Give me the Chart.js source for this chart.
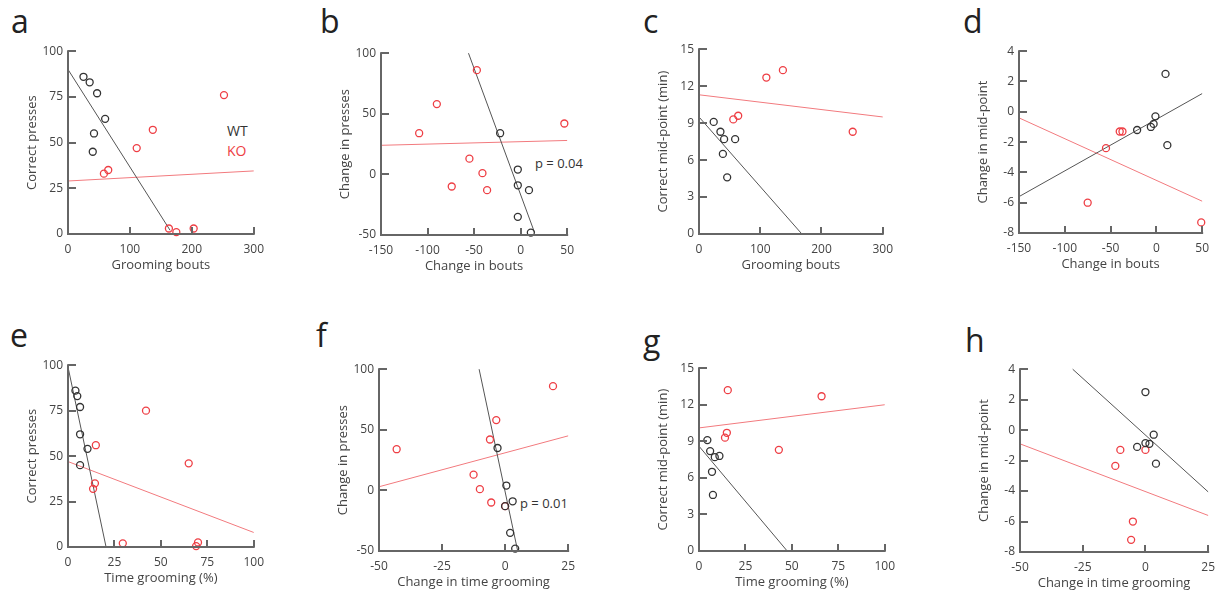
<!DOCTYPE html>
<html>
<head>
<meta charset="utf-8">
<script src="https://cdn.jsdelivr.net/npm/chart.js@4"></script>
<style>
  body { margin: 0; width: 1217px; height: 594px; background: #fff; position: relative; overflow: hidden; font-family: "Open Sans", sans-serif; }
  canvas { position: absolute; }
  .lbl { position: absolute; font-size: 32px; line-height: 1; color: #222; }
  .note { position: absolute; font-size: 13px; line-height: 1; color: #333; white-space: nowrap; }
</style>
</head>
<body>

<div class="lbl" style="left:11px;top:5px">a</div>
<div class="lbl" style="left:320px;top:5px">b</div>
<div class="lbl" style="left:643px;top:5px">c</div>
<div class="lbl" style="left:963px;top:5px">d</div>
<div class="lbl" style="left:10px;top:319px">e</div>
<div class="lbl" style="left:316px;top:319px">f</div>
<div class="lbl" style="left:643px;top:325px">g</div>
<div class="lbl" style="left:965px;top:324px">h</div>

<div class="note" style="left:227px;top:124px;font-size:14px">WT</div>
<div class="note" style="left:227px;top:144px;font-size:14px;color:#ee3e44">KO</div>
<div class="note" style="left:535px;top:157px">p = 0.04</div>
<div class="note" style="left:520px;top:497px">p = 0.01</div>

<canvas id="pa"></canvas>
<canvas id="pb"></canvas>
<canvas id="pc"></canvas>
<canvas id="pd"></canvas>
<canvas id="pe"></canvas>
<canvas id="pf"></canvas>
<canvas id="pg"></canvas>
<canvas id="ph"></canvas>

<script>
// ---- data ----
// a: grooming bouts vs correct presses
const aWtX = [25, 35, 47, 60, 42, 40];
const aWtY = [86, 83, 77, 63, 55, 45];
const aKoX = [252, 137, 111, 65, 58, 163, 175, 203];
const aKoY = [76, 57, 47, 35, 33, 3, 1, 3];
const aWtFitX = [0, 165], aWtFitY = [90, 2];
const aKoFitX = [0, 300], aKoFitY = [29, 34.5];

// b: change in bouts vs change in presses
const bWtX = [-22, -3, -3, 9, -3, 11];
const bWtY = [34, 4, -9, -13, -35, -48];
const bKoX = [-47, -90, -109, -55, -41, -74, -36, 47];
const bKoY = [86, 58, 34, 13, 1, -10, -13, 42];
const bWtFitX = [-56, 15], bWtFitY = [100, -48];
const bKoFitX = [-150, 50], bKoFitY = [24, 28];

// c: grooming bouts vs correct mid-point
const cWtX = [24, 35, 41, 59, 39, 46];
const cWtY = [9.1, 8.3, 7.7, 7.7, 6.5, 4.6];
const cKoX = [110, 137, 56, 64, 251];
const cKoY = [12.7, 13.3, 9.3, 9.6, 8.3];
const cWtFitX = [0, 168], cWtFitY = [9.5, 0];
const cKoFitX = [0, 300], cKoFitY = [11.3, 9.5];

// d: change in bouts vs change in mid-point
const dWtX = [10, -1, -3, -6, -21, 12];
const dWtY = [2.5, -0.3, -0.8, -1.0, -1.2, -2.2];
const dKoX = [-40, -37, -55, -75, 49];
const dKoY = [-1.3, -1.3, -2.4, -6.0, -7.3];
const dWtFitX = [-150, 50], dWtFitY = [-5.6, 1.2];
const dKoFitX = [-150, 50], dKoFitY = [-0.4, -5.9];

// e: time grooming vs correct presses
const eWtX = [4, 5, 6.5, 6.5, 10.5, 6.5];
const eWtY = [86, 83, 77, 62, 54, 45];
const eKoX = [42, 15, 65, 14.5, 13.5, 29.5, 70, 69];
const eKoY = [75, 56, 46, 35, 32, 2, 2.5, 0.5];
const eWtFitX = [0, 20.5], eWtFitY = [99, 0];
const eKoFitX = [0, 100], eKoFitY = [47, 8];

// f: change in time grooming vs change in presses
const fWtX = [-3, 0.5, 3, 0, 2, 4];
const fWtY = [35, 4, -9, -13, -35, -48];
const fKoX = [19, -3.5, -6, -43, -12.5, -10, -5.5, 0];
const fKoY = [86, 58, 42, 34, 13, 1, -10, -13];
const fWtFitX = [-10.3, 5], fWtFitY = [100, -50];
const fKoFitX = [-50, 25], fKoFitY = [3, 45];

// g: time grooming vs correct mid-point
const gWtX = [4.5, 6, 8.5, 11, 7, 7.5];
const gWtY = [9.1, 8.2, 7.7, 7.8, 6.5, 4.6];
const gKoX = [15.5, 66, 15, 14, 43];
const gKoY = [13.2, 12.7, 9.7, 9.3, 8.3];
const gWtFitX = [0, 47.5], gWtFitY = [8.6, 0];
const gKoFitX = [0, 100], gKoFitY = [10.1, 12];

// h: change in time grooming vs change in mid-point
const hWtX = [0, 3.3, 1.6, 0, -3.3, 4.2];
const hWtY = [2.5, -0.3, -0.9, -0.85, -1.1, -2.2];
const hKoX = [-10, 0, -12, -5, -5.7];
const hKoY = [-1.3, -1.3, -2.35, -6, -7.2];
const hWtFitX = [-29, 25], hWtFitY = [4, -4.05];
const hKoFitX = [-50, 25], hKoFitY = [-0.9, -5.6];

// tick labels
const ticksBouts = [0, 100, 200, 300];
const ticksDBouts = [-150, -100, -50, 0, 50];
const ticksPct = [0, 25, 50, 75, 100];
const ticksDPct = [-50, -25, 0, 25];
const ticksPresses = [0, 25, 50, 75, 100];
const ticksDPresses = [-50, 0, 50, 100];
const ticksMid = [0, 3, 6, 9, 12, 15];
const ticksDMid = [-8, -6, -4, -2, 0, 2, 4];

// ---- styling ----
const WT_COL = "#333333";
const KO_COL = "#ee3e44";
const WT_LINE = "#555555";
const KO_LINE = "#f27a7e";
const AXIS_COL = "#666666";
const TEXT_COL = "#444444";
const Y_W = 44, X_H = 39, PAD_T = 8, PAD_R = 14;

const zip = (xs, ys) => xs.map((x, i) => ({ x, y: ys[i] }));

// axis lines plus matlab-style ticks pointing into the plot
const axesPlugin = {
  id: "axesPlugin",
  afterDraw(chart) {
    const ctx = chart.ctx;
    const area = chart.chartArea;
    const xs = chart.scales.x, ys = chart.scales.y;
    const left = Math.round(area.left), bottom = Math.round(area.bottom);
    ctx.save();
    ctx.strokeStyle = AXIS_COL;
    ctx.lineWidth = 2;
    ctx.beginPath();
    ctx.moveTo(left, area.top - 1);
    ctx.lineTo(left, bottom);
    ctx.lineTo(area.right + 1, bottom);
    ctx.stroke();
    xs.ticks.forEach(t => {
      const px = Math.round(xs.getPixelForValue(t.value));
      ctx.beginPath();
      ctx.moveTo(px, bottom);
      ctx.lineTo(px, bottom - 7);
      ctx.stroke();
    });
    ys.ticks.forEach(t => {
      const py = Math.round(ys.getPixelForValue(t.value));
      ctx.beginPath();
      ctx.moveTo(left, py);
      ctx.lineTo(left + 8, py);
      ctx.stroke();
    });
    ctx.restore();
  }
};

function panel(id, box, xTicks, yTicks, xTitle, yTitle, s) {
  const cv = document.getElementById(id);
  cv.width = box.R - box.L + Y_W + PAD_R;
  cv.height = box.B - box.T + PAD_T + X_H;
  cv.style.left = (box.L - Y_W) + "px";
  cv.style.top = (box.T - PAD_T) + "px";

  const tickFont = { family: "'Open Sans', sans-serif", size: 12 };
  const titleFont = { family: "'Open Sans', sans-serif", size: 13 };

  new Chart(cv, {
    type: "scatter",
    data: {
      datasets: [
        { data: zip(s.wtX, s.wtY), borderColor: WT_COL, backgroundColor: "transparent", pointRadius: 3.5, borderWidth: 1.3, clip: false },
        { data: zip(s.koX, s.koY), borderColor: KO_COL, backgroundColor: "transparent", pointRadius: 3.5, borderWidth: 1.3, clip: false },
        { data: zip(s.wtFitX, s.wtFitY), showLine: true, borderColor: WT_LINE, borderWidth: 1, pointRadius: 0, clip: false },
        { data: zip(s.koFitX, s.koFitY), showLine: true, borderColor: KO_LINE, borderWidth: 1, pointRadius: 0, clip: false }
      ]
    },
    options: {
      responsive: false,
      animation: false,
      devicePixelRatio: 1,
      layout: { padding: { top: PAD_T, right: PAD_R, left: 0, bottom: 0 } },
      plugins: { legend: { display: false }, tooltip: { enabled: false } },
      scales: {
        x: {
          type: "linear",
          min: xTicks[0],
          max: xTicks[xTicks.length - 1],
          afterBuildTicks: sc => { sc.ticks = xTicks.map(v => ({ value: v })); },
          afterFit: sc => { sc.height = X_H; },
          grid: { display: false, drawTicks: false },
          border: { display: false },
          ticks: { color: TEXT_COL, font: tickFont, padding: 8, maxRotation: 0 },
          title: { display: true, text: xTitle, color: TEXT_COL, font: titleFont, padding: 0 }
        },
        y: {
          type: "linear",
          min: yTicks[0],
          max: yTicks[yTicks.length - 1],
          afterBuildTicks: sc => { sc.ticks = yTicks.map(v => ({ value: v })); },
          afterFit: sc => { sc.width = Y_W; },
          grid: { display: false, drawTicks: false },
          border: { display: false },
          ticks: { color: TEXT_COL, font: tickFont, padding: 5 },
          title: { display: true, text: yTitle, color: TEXT_COL, font: titleFont, padding: 0 }
        }
      }
    },
    plugins: [axesPlugin]
  });
}

panel("pa", { L: 68, R: 258, T: 47, B: 234 }, ticksBouts, ticksPresses, "Grooming bouts", "Correct presses",
  { wtX: aWtX, wtY: aWtY, koX: aKoX, koY: aKoY, wtFitX: aWtFitX, wtFitY: aWtFitY, koFitX: aKoFitX, koFitY: aKoFitY });
panel("pb", { L: 381, R: 568, T: 49, B: 235 }, ticksDBouts, ticksDPresses, "Change in bouts", "Change in presses",
  { wtX: bWtX, wtY: bWtY, koX: bKoX, koY: bKoY, wtFitX: bWtFitX, wtFitY: bWtFitY, koFitX: bKoFitX, koFitY: bKoFitY });
panel("pc", { L: 699, R: 887, T: 45, B: 234 }, ticksBouts, ticksMid, "Grooming bouts", "Correct mid-point (min)",
  { wtX: cWtX, wtY: cWtY, koX: cKoX, koY: cKoY, wtFitX: cWtFitX, wtFitY: cWtFitY, koFitX: cKoFitX, koFitY: cKoFitY });
panel("pd", { L: 1019, R: 1203, T: 47, B: 233 }, ticksDBouts, ticksDMid, "Change in bouts", "Change in mid-point",
  { wtX: dWtX, wtY: dWtY, koX: dKoX, koY: dKoY, wtFitX: dWtFitX, wtFitY: dWtFitY, koFitX: dKoFitX, koFitY: dKoFitY });
panel("pe", { L: 68, R: 258, T: 361, B: 547 }, ticksPct, ticksPresses, "Time grooming (%)", "Correct presses",
  { wtX: eWtX, wtY: eWtY, koX: eKoX, koY: eKoY, wtFitX: eWtFitX, wtFitY: eWtFitY, koFitX: eKoFitX, koFitY: eKoFitY });
panel("pf", { L: 379, R: 569, T: 365, B: 551 }, ticksDPct, ticksDPresses, "Change in time grooming", "Change in presses",
  { wtX: fWtX, wtY: fWtY, koX: fKoX, koY: fKoY, wtFitX: fWtFitX, wtFitY: fWtFitY, koFitX: fKoFitX, koFitY: fKoFitY });
panel("pg", { L: 699, R: 889, T: 364, B: 551 }, ticksPct, ticksMid, "Time grooming (%)", "Correct mid-point (min)",
  { wtX: gWtX, wtY: gWtY, koX: gKoX, koY: gKoY, wtFitX: gWtFitX, wtFitY: gWtFitY, koFitX: gKoFitX, koFitY: gKoFitY });
panel("ph", { L: 1020, R: 1209, T: 365, B: 552 }, ticksDPct, ticksDMid, "Change in time grooming", "Change in mid-point",
  { wtX: hWtX, wtY: hWtY, koX: hKoX, koY: hKoY, wtFitX: hWtFitX, wtFitY: hWtFitY, koFitX: hKoFitX, koFitY: hKoFitY });
</script>
</body>
</html>
